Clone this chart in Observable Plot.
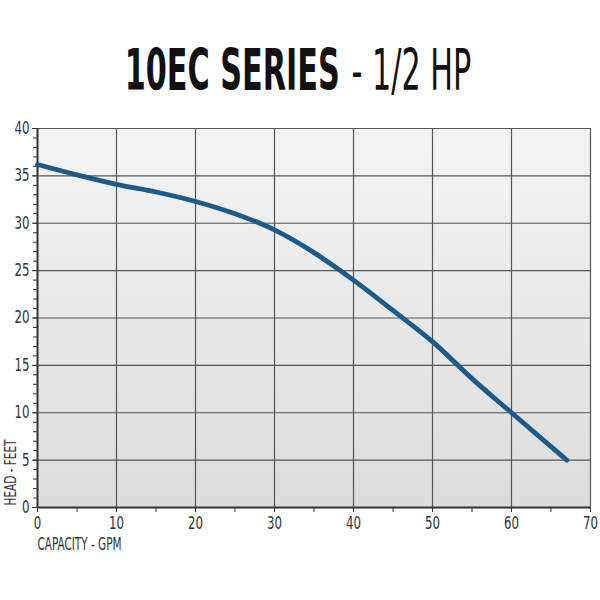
<!DOCTYPE html>
<html>
<head>
<meta charset="utf-8">
<script src="https://cdn.jsdelivr.net/npm/d3@7"></script>
<script src="https://cdn.jsdelivr.net/npm/@observablehq/plot@0.6"></script>
<style>
  body { margin: 0; background: #fff; width: 600px; height: 600px; overflow: hidden; }
  #title { height: 110px; position: relative; }
  #title div { position: absolute; left: 298px; top: 42px; transform: translateX(-50%) scaleX(0.59);
    white-space: nowrap;
    font-family: "DejaVu Sans Condensed", "DejaVu Sans", sans-serif;
    font-size: 57px; line-height: 57px; color: #111; }
  #title b { font-weight: 700; }
  #title span { font-weight: 400; margin-left: 20px; }
</style>
</head>
<body>
<div id="title"><div><b>10EC SERIES</b><span>- 1/2 HP</span></div></div>
<div id="chart"></div>
<script>
const capacity = [0, 5, 10, 15, 20, 25, 30, 35, 40, 45, 50, 55, 60, 67];
const head = [36.2, 35.1, 34.1, 33.3, 32.3, 31.0, 29.3, 26.9, 24.0, 20.8, 17.5, 13.6, 10.0, 5.0];
const xTicks = [0, 10, 20, 30, 40, 50, 60, 70];
const yTicks = [0, 5, 10, 15, 20, 25, 30, 35, 40];
const xMinor = d3.range(0, 71, 5);
const yMinor = d3.range(0, 41, 1);
const xLabel = "CAPACITY - GPM";
const yLabel = "HEAD - FEET";

const data = capacity.map((c, i) => ({c, h: head[i]}));

const chart = Plot.plot({
  width: 600,
  height: 457,
  marginLeft: 37,
  marginRight: 10,
  marginTop: 18,
  marginBottom: 60,
  x: {domain: [0, 70], label: null},
  y: {domain: [0, 40], label: null},
  style: {fontSize: "17px", color: "#333", background: "transparent"},
  marks: [
    Plot.frame({fill: "url(#bggrad)", stroke: "none"}),
    Plot.ruleX(xTicks.slice(1), {stroke: "#555", strokeWidth: 1.2, strokeOpacity: 1}),
    Plot.ruleY(yTicks.slice(1), {stroke: "#555", strokeWidth: 1.2, strokeOpacity: 1}),
    Plot.axisY({ticks: yMinor, tickSize: 4, tickFormat: () => "", label: null, stroke: "#333"}),
    Plot.axisY({ticks: yTicks, tickSize: 5, tickPadding: 3, label: null, fill: "#333", fontSize: 17, stroke: "#333"}),
    Plot.axisX({ticks: xMinor, tickSize: 5, tickFormat: () => "", label: null, stroke: "#333"}),
    Plot.axisX({ticks: xTicks, tickSize: 5, tickPadding: 4, label: null, fill: "#333", fontSize: 17, stroke: "#333"}),
    Plot.ruleX([0], {stroke: "#333", strokeWidth: 2}),
    Plot.ruleY([0], {stroke: "#333", strokeWidth: 2}),
    Plot.line(data, {x: "c", y: "h", curve: "monotone-x", stroke: "#1c5a8c", strokeWidth: 4.8, strokeLinecap: "round"}),
    Plot.text([xLabel], {frameAnchor: "bottom-left", dy: 42, dx: 0, textAnchor: "start", fontSize: 17, fill: "#333"}),
    Plot.text([yLabel], {frameAnchor: "bottom-left", dx: -22, dy: -2, rotate: -90, textAnchor: "start", fontSize: 16, fill: "#333"})
  ]
});

const svg = d3.select(chart);
const defs = svg.insert("defs", ":first-child");
const g = defs.append("linearGradient").attr("id", "bggrad").attr("x1", 0).attr("y1", 0).attr("x2", 0).attr("y2", 1);
g.append("stop").attr("offset", "0%").attr("stop-color", "#f4f4f4");
g.append("stop").attr("offset", "100%").attr("stop-color", "#dcdcdc");
svg.selectAll("text").style("font-family", "'DejaVu Sans Condensed', sans-serif");
svg.selectAll("text").each(function() {
  const t = this.textContent;
  if (t === xLabel) d3.select(this).attr("textLength", 84).attr("lengthAdjust", "spacingAndGlyphs");
  else if (t === yLabel) d3.select(this).attr("textLength", 66).attr("lengthAdjust", "spacingAndGlyphs");
  else if (/^\d+$/.test(t)) d3.select(this).attr("textLength", t.length * 7.5).attr("lengthAdjust", "spacingAndGlyphs");
});
document.getElementById("chart").appendChild(chart);
</script>
</body>
</html>
